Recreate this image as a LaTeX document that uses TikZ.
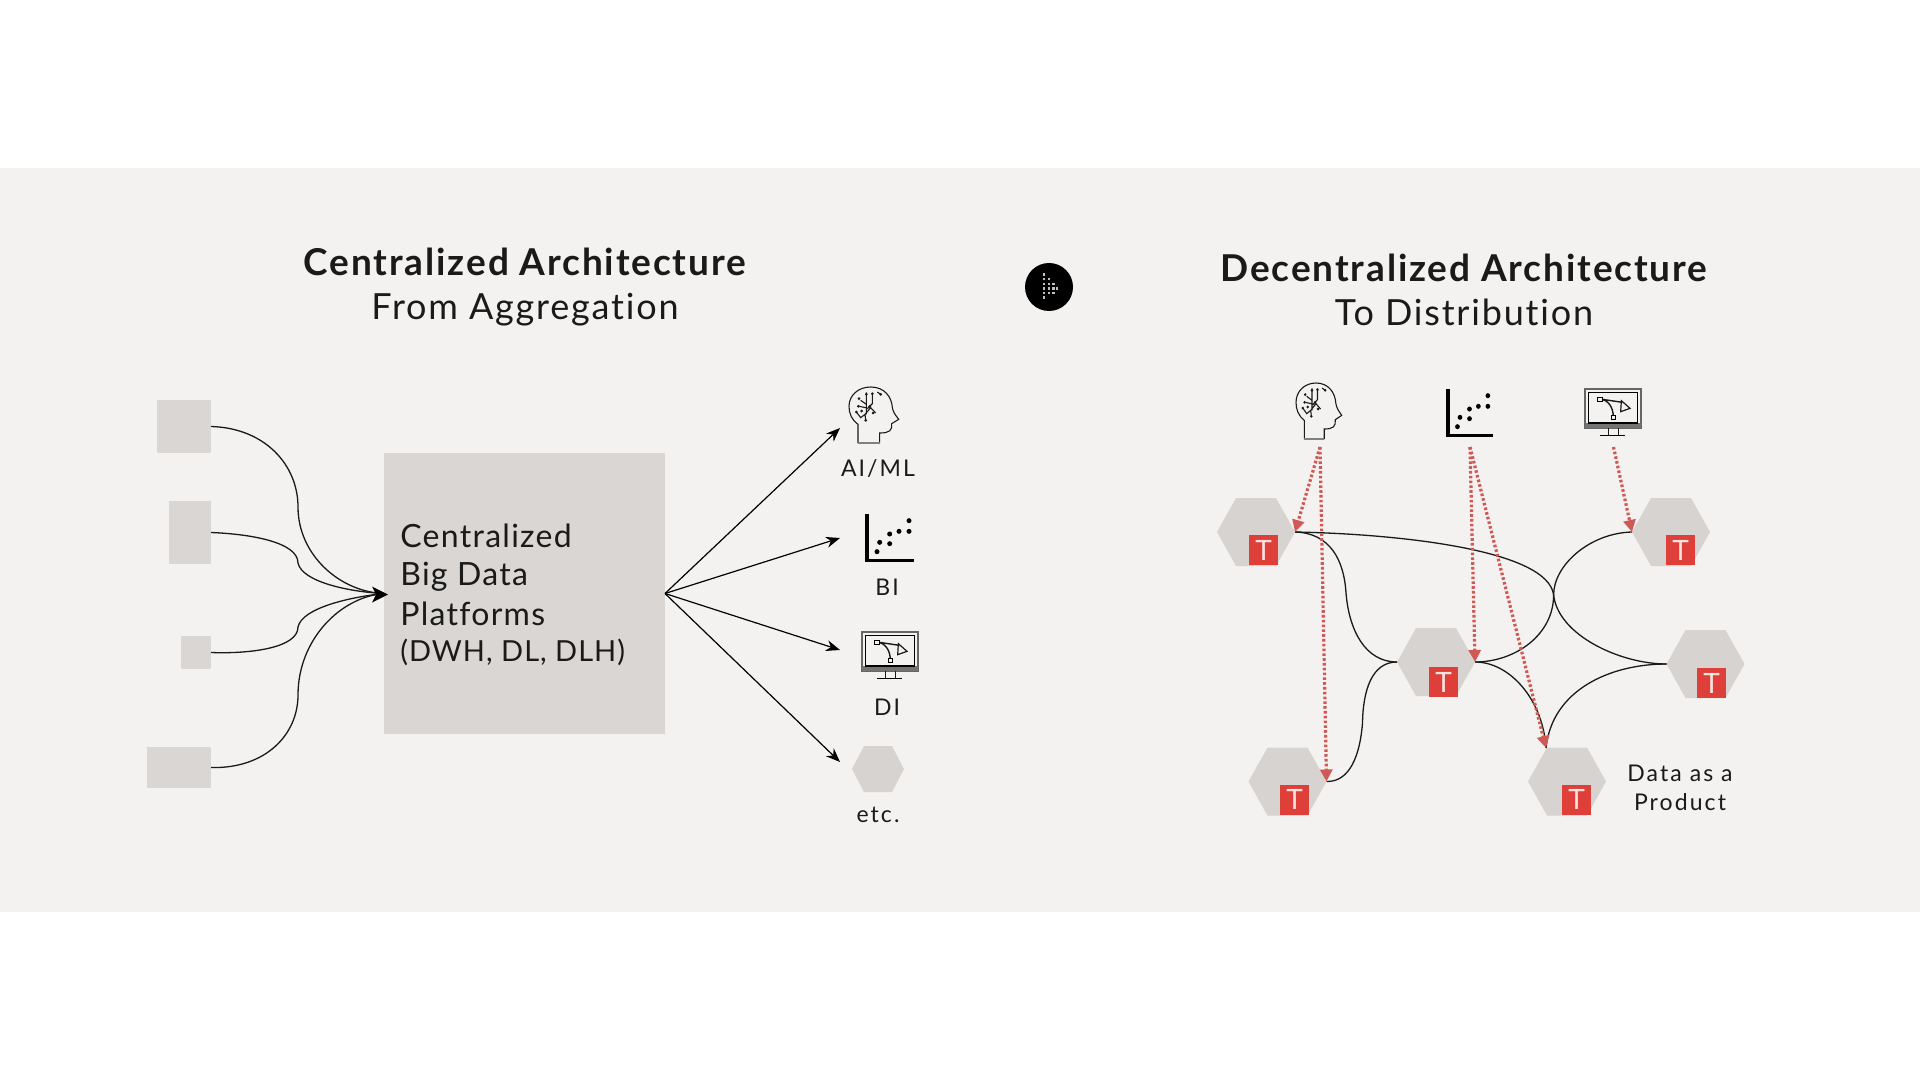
\documentclass[tikz,border=0pt]{standalone}
\usepackage{fontspec}
\setmainfont{Lato}[Ligatures={NoCommon,NoRare,NoDiscretionary}]
\usetikzlibrary{arrows.meta,calc}
\definecolor{bandc}{HTML}{F4F2F0}
\definecolor{boxc}{HTML}{DAD6D3}
\definecolor{hexc}{HTML}{D6D3D0}
\definecolor{redc}{HTML}{DE3F38}
\definecolor{dotc}{HTML}{D05855}
\definecolor{inkc}{HTML}{1A1A1A}
\newcommand{\ls}[1]{\addfontfeature{LetterSpace=#1}}
\tikzset{
 srcbox/.style={fill=boxc,inner sep=0pt,outer sep=0pt,rectangle},
 hexnode/.style={rectangle,inner sep=0pt,outer sep=0pt,minimum width=39pt,minimum height=34pt,
   path picture={\fill[hexc]
     ($(path picture bounding box.north west)+(#1,0pt)$) -- ($(path picture bounding box.north east)+(-#1,0pt)$)
     -- (path picture bounding box.east) -- ($(path picture bounding box.south east)+(-#1,0pt)$)
     -- ($(path picture bounding box.south west)+(#1,0pt)$) -- (path picture bounding box.west) -- cycle;}},
 hexnode/.default=9.5pt,
 tbadge/.style={rectangle,fill=redc,text=white!85!redc,inner sep=0pt,outer sep=0pt,minimum width=14.5pt,minimum height=15pt,font=\fontsize{14pt}{14pt}\selectfont},
 flow/.style={draw=black,line width=.6pt,-{Stealth[length=7pt,width=5.5pt]}},
 link/.style={draw=inkc,line width=.65pt},
 dep/.style={draw=dotc,line width=1.6pt,dash pattern=on 1.3pt off 1.1pt,-{Triangle[length=6pt,width=6pt]}},
 lab/.style={inner sep=0pt,text=inkc,font=\fontsize{11.5pt}{14pt}\selectfont\ls{9},align=center},
 ttl/.style={inner sep=0pt,text=inkc,anchor=center},
 boxtxt/.style={anchor=west,inner sep=0pt,text=inkc},
 brainicon/.pic={
  \begin{scope}[x=.1667pt,y=-.1667pt,line width=.55pt,draw=inkc]
   \draw (27,167) -- (27,112) .. controls (8,98) and (0,80) .. (0,58) .. controls (0,25) and (28,0) .. (65,0) .. controls (105,0) and (128,28) .. (130,62) .. controls (132,75) and (140,85) .. (149,97) -- (128,110) .. controls (130,130) and (122,138) .. (92,138) -- (92,167) -- cycle;
   \draw[line width=.9pt,gray] (27,167) -- (92,167);
   \draw (52,16) -- (52,82) (35,40) -- (52,52) (30,58) -- (50,62) (70,20) -- (70,50) -- (55,65) (48,82) -- (65,62) -- (80,78) (22,75) -- (35,92) -- (48,82) (48,82) -- (50,100) (85,15) -- (95,22);
   \foreach \p in {(30,35),(28,58),(52,22),(70,20),(95,22),(72,78),(22,75),(38,72),(50,100),(62,58)} \fill[inkc] \p circle (4.5);
  \end{scope}},
 scattericon/.pic={
  \begin{scope}[x=.1667pt,y=-.1667pt]
   \draw[line width=1.8pt,black,line cap=butt] (3,0) -- (3,140) -- (145,140);
   \foreach \p in {(33,113),(41,85),(71,60),(71,89),(99,52),(129,52),(129,20)} \fill[black] \p circle (7.5);
  \end{scope}},
 monitoricon/.pic={
  \begin{scope}[x=.1667pt,y=-.1667pt]
   \draw[line width=.7pt,gray!80!black] (0,0) rectangle (168,117);
   \fill[gray!90!black] (0,102) rectangle (168,117);
   \draw[line width=.75pt,black] (10,10) rectangle (157,102);
   \draw[line width=.55pt,inkc] (70,117) -- (70,140) (100,117) -- (100,140);
   \draw[line width=.65pt,black] (45,140) -- (120,140);
   \draw[line width=.7pt,inkc] (45,30) .. controls (70,33) and (85,55) .. (85,85) (45,30) -- (112,40);
   \draw[line width=.6pt,inkc] (109,35) -- (135,58) -- (107,68) -- cycle;
   \fill[bandc] (38,24) rectangle (52,36) (79,80) rectangle (91,92);
   \draw[line width=.5pt,black] (38,24) rectangle (52,36) (79,80) rectangle (91,92);
  \end{scope}}
}
\begin{document}
\begin{tikzpicture}[x=.5pt,y=-.5pt]
\useasboundingbox (0,0) rectangle (1920,1080);
\fill[white] (0,0) rectangle (1920,1080);
\fill[bandc] (0,168) rectangle (1920,912);

% titles
\node[ttl] (t1) at (525,262) {\fontsize{18.5pt}{20pt}\selectfont\bfseries\ls{5} Centralized Architecture};
\node[ttl] (t2) at (525,310) {\fontsize{18pt}{20pt}\selectfont\ls{5} From Aggregation};
\node[ttl] (t3) at (1464,268) {\fontsize{18.5pt}{20pt}\selectfont\bfseries\ls{5} Decentralized Architecture};
\node[ttl] (t4) at (1464,312) {\fontsize{18pt}{20pt}\selectfont\ls{5} To Distribution};

% play badge
\node[circle,fill=black,minimum size=24pt,inner sep=0pt] (play) at (1049,287) {};
\foreach \cx/\ys in {-5/{-12.5,-8,-3,1.5,6,10.5},0/{-8,-3,1.5,6},4.5/{-3,1.5,6},8/{1.5}}
  \foreach \cy in \ys \fill[gray!50] ($(play)+(\cx-1.4,\cy-1.4)$) rectangle ($(play)+(\cx+1.4,\cy+1.4)$);

% left side
\node[srcbox,minimum width=27pt,minimum height=26.5pt] (s1) at (184,426.5) {};
\node[srcbox,minimum width=21pt,minimum height=31.5pt] (s2) at (190,532.5) {};
\node[srcbox,minimum width=15pt,minimum height=16.5pt] (s3) at (196,652.5) {};
\node[srcbox,minimum width=32pt,minimum height=20.5pt] (s4) at (179,767.5) {};
\node[srcbox,minimum width=140.5pt,minimum height=140.5pt] (core) at (524.5,593.5) {};
\node[boxtxt] (c1) at (400,536) {\fontsize{16pt}{18pt}\selectfont\ls{4} Centralized};
\node[boxtxt] (c2) at (400,577) {\fontsize{16pt}{18pt}\selectfont\ls{4} Big Data};
\node[boxtxt] (c3) at (400,614) {\fontsize{16pt}{18pt}\selectfont\ls{4} Platforms};
\node[boxtxt] (c4) at (400,652) {\fontsize{14.5pt}{16pt}\selectfont\ls{3.5} (DWH, DL, DLH)};

\path[link] (s1.east) .. controls (265,428) and (298,465) .. (298,507) .. controls (298,555) and (340,592) .. (core.west);
\path[link] (s2.east) .. controls (250,534) and (298,542) .. (298,563) .. controls (302,582) and (350,592) .. (core.west);
\path[link] (s3.east) .. controls (250,654) and (298,648) .. (298,627) .. controls (302,608) and (350,597) .. (core.west);
\path[link] (s4.east) .. controls (265,769) and (298,735) .. (298,695) .. controls (298,640) and (340,597) .. (core.west);
\fill[black] (388,594.5) -- (372,586.5) -- (376,594.5) -- (372,602.5) -- cycle;

\coordinate (aiE) at (840,428);
\coordinate (biE) at (840,538);
\coordinate (diE) at (840,650);
\coordinate (etcE) at (840,762);
\path[flow] (core.east) -- (aiE);
\path[flow] (core.east) -- (biE);
\path[flow] (core.east) -- (diE);
\path[flow] (core.east) -- (etcE);

\pic (brainA) at (849,387) {brainicon};
\pic (scatA) at (866,514) {scattericon};
\pic (monA) at (862,632) {monitoricon};
\node[hexnode=6pt,minimum width=26pt,minimum height=23pt] (hexEtc) at (878,769) {};
\node[lab] (lAI) at (878,469) {AI/ML};
\node[lab] (lBI) at (887,587) {BI};
\node[lab] (lDI) at (887,707) {DI};
\node[lab] (lEtc) at (878,815) {etc.};

% right side
\pic[xscale=.92] (brainB) at (1296,383) {brainicon};
\pic[xscale=.95] (scatB) at (1447,389) {scattericon};
\pic (monB) at (1585,389) {monitoricon};

\node[hexnode] (h1) at (1256,532) {};
\node[hexnode] (h2) at (1671,532) {};
\node[hexnode] (h3) at (1436,662) {};
\node[hexnode] (h4) at (1705.5,664) {};
\node[hexnode] (h5) at (1287.5,781.5) {};
\node[hexnode] (h6) at (1567,781.5) {};
\node[tbadge] (b1) at (1263.5,550) {T};
\node[tbadge] (b2) at (1680.5,550) {T};
\node[tbadge] (b3) at (1443.5,682) {T};
\node[tbadge] (b4) at (1711.5,683) {T};
\node[tbadge] (b5) at (1294.5,799.5) {T};
\node[tbadge] (b6) at (1576.5,799.5) {T};
\coordinate (h6top) at (1546,748);
\coordinate (brainO) at (1320,447);
\coordinate (scatO) at (1470,447);
\coordinate (monO) at (1613.5,447);

\path[link] (h1.east) .. controls (1330,533) and (1344,560) .. (1346,593) .. controls (1349,630) and (1365,662) .. (h3.west);
\path[link] (h1.east) .. controls (1400,534) and (1548,550) .. (1553.6,595) .. controls (1558,635) and (1620,664) .. (h4.west);
\path[link] (h2.west) .. controls (1590,533) and (1553.6,565) .. (1553.6,595) .. controls (1553.6,635) and (1515,662) .. (h3.east);
\path[link] (h3.east) .. controls (1510,662) and (1543,700) .. (h6top);
\path[link] (h4.west) .. controls (1610,664) and (1552,690) .. (h6top);
\path[link] (h3.west) .. controls (1372,662) and (1363,690) .. (1362.5,723) .. controls (1360,755) and (1350,782) .. (h5.east);

\path[dep] (brainO) -- (h1.east);
\path[dep] (brainO) -- (h5.east);
\path[dep] (scatO) -- (h3.east);
\path[dep] (scatO) -- (h6top);
\path[dep] (monO) -- (h2.west);

\node[lab] (dp1) at (1680,773) {Data as a};
\node[lab] (dp2) at (1680,802) {Product};
\end{tikzpicture}
\end{document}
